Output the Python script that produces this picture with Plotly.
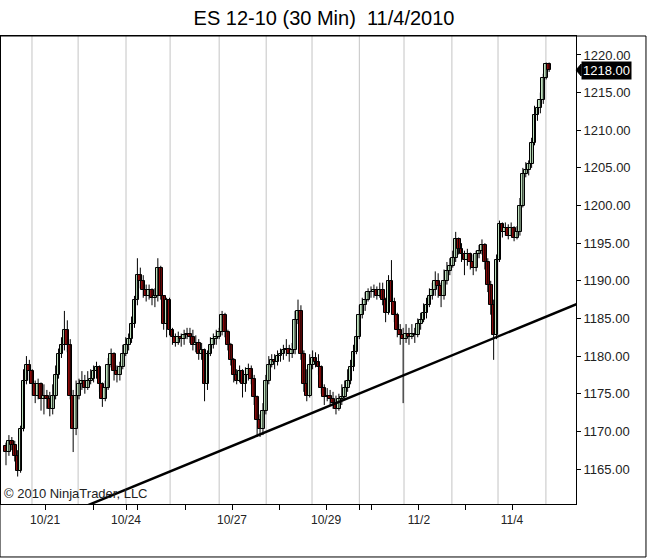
import plotly.graph_objects as go

# ---------------- data (ES 12-10, 30 min bars) ----------------
first_open = 1168.0
close = [
    1167.25, 1168.75, 1168.25, 1166.75, 1164.75, 1170.25, 1176.75, 1178.75, 1178.0, 1176.25,
    1174.75, 1176.25, 1174.25, 1174.75, 1174.25, 1173.0, 1174.75, 1177.5, 1180.25, 1181.5,
    1183.5, 1181.5, 1174.75, 1170.25, 1174.75, 1176.25, 1176.75, 1175.75, 1176.75, 1177.0,
    1178.0, 1178.5, 1176.25, 1174.25, 1175.75, 1178.75, 1180.25, 1178.0, 1177.5, 1178.5,
    1180.25, 1181.5, 1182.25, 1184.25, 1187.5, 1190.75, 1190.0, 1188.75, 1188.0, 1188.75,
    1187.75, 1188.0, 1191.75, 1188.0, 1184.25, 1187.5, 1183.5, 1182.5, 1181.75, 1182.5,
    1182.25, 1182.75, 1183.0, 1182.5, 1181.5, 1181.75, 1180.25, 1180.75, 1176.25, 1180.25,
    1181.5, 1182.25, 1182.5, 1183.25, 1185.5, 1183.25, 1181.5, 1179.5, 1177.5, 1176.75,
    1178.0, 1176.25, 1177.5, 1178.25, 1177.0, 1174.5, 1171.5, 1170.25, 1172.75, 1176.75,
    1178.75, 1179.5, 1179.25, 1180.0, 1180.25, 1180.75, 1181.0, 1180.25, 1180.75, 1184.75,
    1186.0, 1180.25, 1176.25, 1174.75, 1178.75, 1179.75, 1179.25, 1178.5, 1175.75, 1174.5,
    1174.75, 1174.25, 1173.75, 1173.0, 1174.25, 1174.5, 1175.75, 1176.75, 1178.5, 1180.5,
    1182.5, 1185.5, 1186.75, 1187.5, 1188.5, 1188.5, 1188.75, 1188.0, 1188.75, 1187.5,
    1185.75, 1190.0, 1187.25, 1185.5, 1183.5, 1182.75, 1182.25, 1183.0, 1182.5, 1183.0,
    1182.75, 1184.25, 1184.75, 1185.75, 1186.75, 1188.0, 1188.75, 1190.0, 1189.25, 1188.0,
    1190.0, 1191.25, 1192.0, 1193.0, 1195.5, 1194.25, 1193.5, 1192.75, 1193.5, 1192.5,
    1191.75, 1193.5, 1194.0, 1194.75, 1192.5, 1189.5, 1186.75, 1182.75, 1192.75, 1197.5,
    1196.5, 1197.0, 1196.0, 1197.0, 1195.75, 1196.5, 1200.0, 1204.25, 1204.75, 1205.5,
    1208.25, 1212.0, 1213.0, 1214.0, 1217.0, 1218.75, 1218.0,
]
high = [
    1168.5, 1169.5, 1169.25, 1168.75, 1167.5, 1170.75, 1178.25, 1180.0, 1179.5, 1178.25,
    1176.75, 1177.0, 1176.5, 1176.25, 1175.5, 1175.25, 1176.25, 1178.75, 1181.0, 1182.5,
    1186.0, 1184.75, 1182.25, 1175.5, 1176.75, 1177.0, 1178.0, 1177.5, 1178.0, 1178.25,
    1178.75, 1179.25, 1178.75, 1176.5, 1176.75, 1179.75, 1181.0, 1180.5, 1178.75, 1179.25,
    1181.5, 1182.5, 1183.0, 1185.25, 1188.0, 1193.0, 1191.75, 1190.75, 1189.5, 1189.5,
    1189.0, 1189.0, 1193.0, 1192.0, 1187.5, 1187.75, 1187.75, 1183.75, 1183.0, 1183.25,
    1183.0, 1183.5, 1183.75, 1183.75, 1183.5, 1182.75, 1182.25, 1181.75, 1181.0, 1180.75,
    1182.5, 1183.0, 1183.5, 1183.75, 1186.0, 1185.75, 1183.5, 1181.75, 1179.75, 1178.25,
    1178.75, 1178.25, 1178.5, 1179.0, 1178.75, 1177.5, 1174.75, 1172.25, 1173.75, 1177.5,
    1180.0, 1180.25, 1180.25, 1180.75, 1181.0, 1181.5, 1182.25, 1181.5, 1181.75, 1186.0,
    1187.5, 1186.75, 1180.75, 1178.25, 1180.25, 1180.75, 1180.5, 1180.25, 1178.75, 1176.25,
    1175.75, 1175.5, 1175.25, 1174.75, 1175.0, 1176.25, 1176.75, 1178.25, 1179.5, 1181.5,
    1183.5, 1186.75, 1187.75, 1188.5, 1189.0, 1189.25, 1189.5, 1189.25, 1189.75, 1189.75,
    1187.75, 1190.75, 1192.75, 1187.75, 1185.75, 1184.25, 1183.75, 1184.25, 1183.75, 1184.25,
    1183.75, 1185.0, 1185.75, 1187.0, 1187.75, 1189.0, 1189.75, 1191.25, 1191.0, 1189.75,
    1191.5, 1192.5, 1193.0, 1194.0, 1196.5, 1195.75, 1195.0, 1194.0, 1194.25, 1193.75,
    1193.5, 1194.0, 1194.75, 1195.5, 1195.0, 1193.0, 1190.0, 1187.5, 1193.5, 1198.0,
    1197.75, 1197.75, 1197.5, 1197.75, 1197.25, 1197.25, 1201.0, 1205.0, 1205.75, 1206.0,
    1209.0, 1213.25, 1214.0, 1215.0, 1217.5, 1219.0, 1219.0,
]
low = [
    1165.5, 1166.75, 1167.5, 1166.0, 1164.0, 1164.5, 1170.0, 1176.25, 1176.75, 1174.75,
    1173.75, 1174.25, 1172.75, 1172.25, 1173.0, 1172.0, 1172.25, 1174.25, 1177.0, 1179.75,
    1180.75, 1180.5, 1174.25, 1167.25, 1169.5, 1174.25, 1175.5, 1175.0, 1175.5, 1176.25,
    1176.5, 1177.0, 1175.25, 1173.25, 1174.0, 1175.5, 1178.5, 1176.75, 1176.5, 1176.75,
    1178.25, 1180.0, 1180.75, 1181.75, 1183.75, 1186.75, 1189.0, 1187.75, 1187.25, 1187.5,
    1186.75, 1186.5, 1187.25, 1187.5, 1183.5, 1182.5, 1182.75, 1181.5, 1181.25, 1181.5,
    1181.25, 1181.5, 1182.25, 1181.75, 1180.75, 1180.5, 1179.5, 1179.5, 1174.0, 1175.5,
    1180.0, 1181.0, 1181.5, 1182.25, 1182.75, 1182.5, 1180.75, 1178.75, 1176.5, 1176.25,
    1176.5, 1174.5, 1175.25, 1176.75, 1176.25, 1173.5, 1169.25, 1169.25, 1169.5, 1172.25,
    1176.25, 1178.5, 1178.25, 1178.75, 1179.25, 1179.5, 1180.0, 1179.25, 1179.75, 1180.25,
    1184.25, 1179.5, 1175.25, 1174.0, 1174.5, 1178.25, 1178.5, 1177.5, 1175.0, 1173.5,
    1174.0, 1173.5, 1173.0, 1172.25, 1172.75, 1173.5, 1174.25, 1175.25, 1176.25, 1178.0,
    1180.25, 1182.25, 1185.0, 1186.0, 1187.25, 1187.75, 1187.75, 1187.5, 1187.75, 1186.75,
    1184.5, 1185.5, 1186.75, 1184.5, 1182.5, 1181.5, 1173.75, 1181.75, 1181.5, 1182.25,
    1181.75, 1182.5, 1183.5, 1184.5, 1185.0, 1186.5, 1187.5, 1188.0, 1187.75, 1186.5,
    1187.5, 1189.5, 1190.75, 1191.75, 1192.5, 1193.5, 1192.5, 1190.75, 1192.0, 1191.5,
    1190.75, 1191.25, 1193.0, 1193.5, 1191.5, 1188.5, 1185.5, 1179.5, 1182.25, 1192.5,
    1195.75, 1196.0, 1195.5, 1196.0, 1195.25, 1195.5, 1196.0, 1199.75, 1203.75, 1204.0,
    1205.0, 1208.0, 1211.25, 1212.25, 1213.5, 1216.75, 1217.75,
]

# date labels on the time axis (bar positions where they sit)
tick_pos = [13.4, 29.8, 41.1, 45.2, 61.6, 77.4, 93.8, 109.6, 121.2, 125.3, 141.4, 157.5, 173.3]
tick_text = ["10/21", "", "10/24", "", "", "10/27", "", "10/29", "", "", "11/2", "", "11/4"]
# session separators (vertical grid lines), in bar positions
session_pos = [8.9, 24.7, 41.1, 56.2, 73.0, 89.1, 104.8, 121.0, 136.3, 152.7, 168.5, 184.9]
# hand-drawn trend line: two anchor points (bar position, price)
trend_x = [28.1, 196.0]
trend_y = [1160.2, 1187.0]

price_ticks = [1165, 1170, 1175, 1180, 1185, 1190, 1195, 1200, 1205, 1210, 1215, 1220]

UP_FILL = "#bfe2bf"
DOWN_FILL = "#8b0a0a"

# ---------------- derived ----------------
bars = list(range(len(close)))
opens = [first_open] + close[:-1]
high = [max(h, o, c) for h, o, c in zip(high, opens, close)]
low = [min(l, o, c) for l, o, c in zip(low, opens, close)]
last_price = close[-1]

body_base = [min(o, c) for o, c in zip(opens, close)]
body_len = [max(abs(c - o), 0.06) for o, c in zip(opens, close)]
body_col = [UP_FILL if c >= o else DOWN_FILL for o, c in zip(opens, close)]

wick_x, wick_y = [], []
for b, h, l in zip(bars, high, low):
    wick_x += [b, b, None]
    wick_y += [l, h, None]

FONT = "Arial, Liberation Sans, sans-serif"

fig = go.Figure()
fig.add_trace(go.Scatter(
    x=wick_x, y=wick_y, mode="lines", line=dict(color="black", width=1),
    showlegend=False, hoverinfo="skip",
))
fig.add_trace(go.Bar(
    x=bars, y=body_len, base=body_base, width=1.3,
    marker=dict(color=body_col, line=dict(color="black", width=1)),
    showlegend=False, name="ES 12-10",
    customdata=list(zip(opens, high, low, close)),
    hovertemplate="O %{customdata[0]:.2f}<br>H %{customdata[1]:.2f}<br>"
                  "L %{customdata[2]:.2f}<br>C %{customdata[3]:.2f}<extra></extra>",
))
fig.add_trace(go.Scatter(
    x=trend_x, y=trend_y, mode="lines",
    line=dict(color="black", width=2.5), showlegend=False, hoverinfo="skip",
))

shapes = []
for p in session_pos:
    shapes.append(dict(type="line", xref="x", yref="paper", x0=p, x1=p, y0=0, y1=1,
                       line=dict(color="#c4c4c4", width=1), layer="below"))
# outer frame around chart + price scale + time scale
shapes.append(dict(type="rect", xref="paper", yref="paper",
                   x0=-0.0017, x1=1.1217, y0=-0.1132, y1=1.0,
                   line=dict(color="black", width=1), fillcolor="rgba(0,0,0,0)"))
# pointer of the last-price marker
shapes.append(dict(type="path", xref="paper", yref="y",
                   path=f"M 1.0,{last_price} L 1.009,{last_price + 0.8} L 1.009,{last_price - 0.8} Z",
                   fillcolor="black", line=dict(color="black", width=1)))

fig.update_layout(
    width=648, height=559,
    margin=dict(l=1, r=72, t=36, b=55),
    paper_bgcolor="white", plot_bgcolor="white",
    bargap=0,
    title=dict(text="ES 12-10 (30 Min)  11/4/2010", x=0.5, xref="container",
               y=1 - 18 / 559, yref="container", yanchor="middle", xanchor="center",
               font=dict(family=FONT, size=20, color="black")),
    font=dict(family=FONT, size=12, color="#222222"),
    shapes=shapes,
    annotations=[
        dict(text="© 2010 NinjaTrader, LLC", xref="paper", yref="paper", x=0, y=0,
             xanchor="left", yanchor="bottom", xshift=1, yshift=1, showarrow=False,
             font=dict(family=FONT, size=13, color="#222222")),
        dict(text=f"{last_price:.2f}", xref="paper", yref="y", x=1.008, y=last_price,
             xanchor="left", yanchor="middle", showarrow=False, bgcolor="black",
             borderpad=1, font=dict(family=FONT, size=13, color="white")),
    ],
    hovermode="closest",
)
fig.update_xaxes(
    range=[-1.71, 195.2],
    showgrid=False, zeroline=False,
    showline=True, linecolor="black", linewidth=1, mirror=True,
    ticks="outside", ticklen=5, tickcolor="black",
    tickmode="array", tickvals=tick_pos, ticktext=tick_text,
    tickfont=dict(family=FONT, size=12, color="#222222"),
)
fig.update_yaxes(
    range=[1160.35, 1222.52], side="right",
    showgrid=False, zeroline=False,
    showline=True, linecolor="black", linewidth=1, mirror=True,
    ticks="outside", ticklen=4, tickcolor="black",
    tickmode="array", tickvals=price_ticks, tickformat=".2f",
    tickfont=dict(family=FONT, size=13, color="#222222"),
)

fig.write_html("out.html", config={"displayModeBar": False},
               post_script="document.body.style.margin='0px';")
